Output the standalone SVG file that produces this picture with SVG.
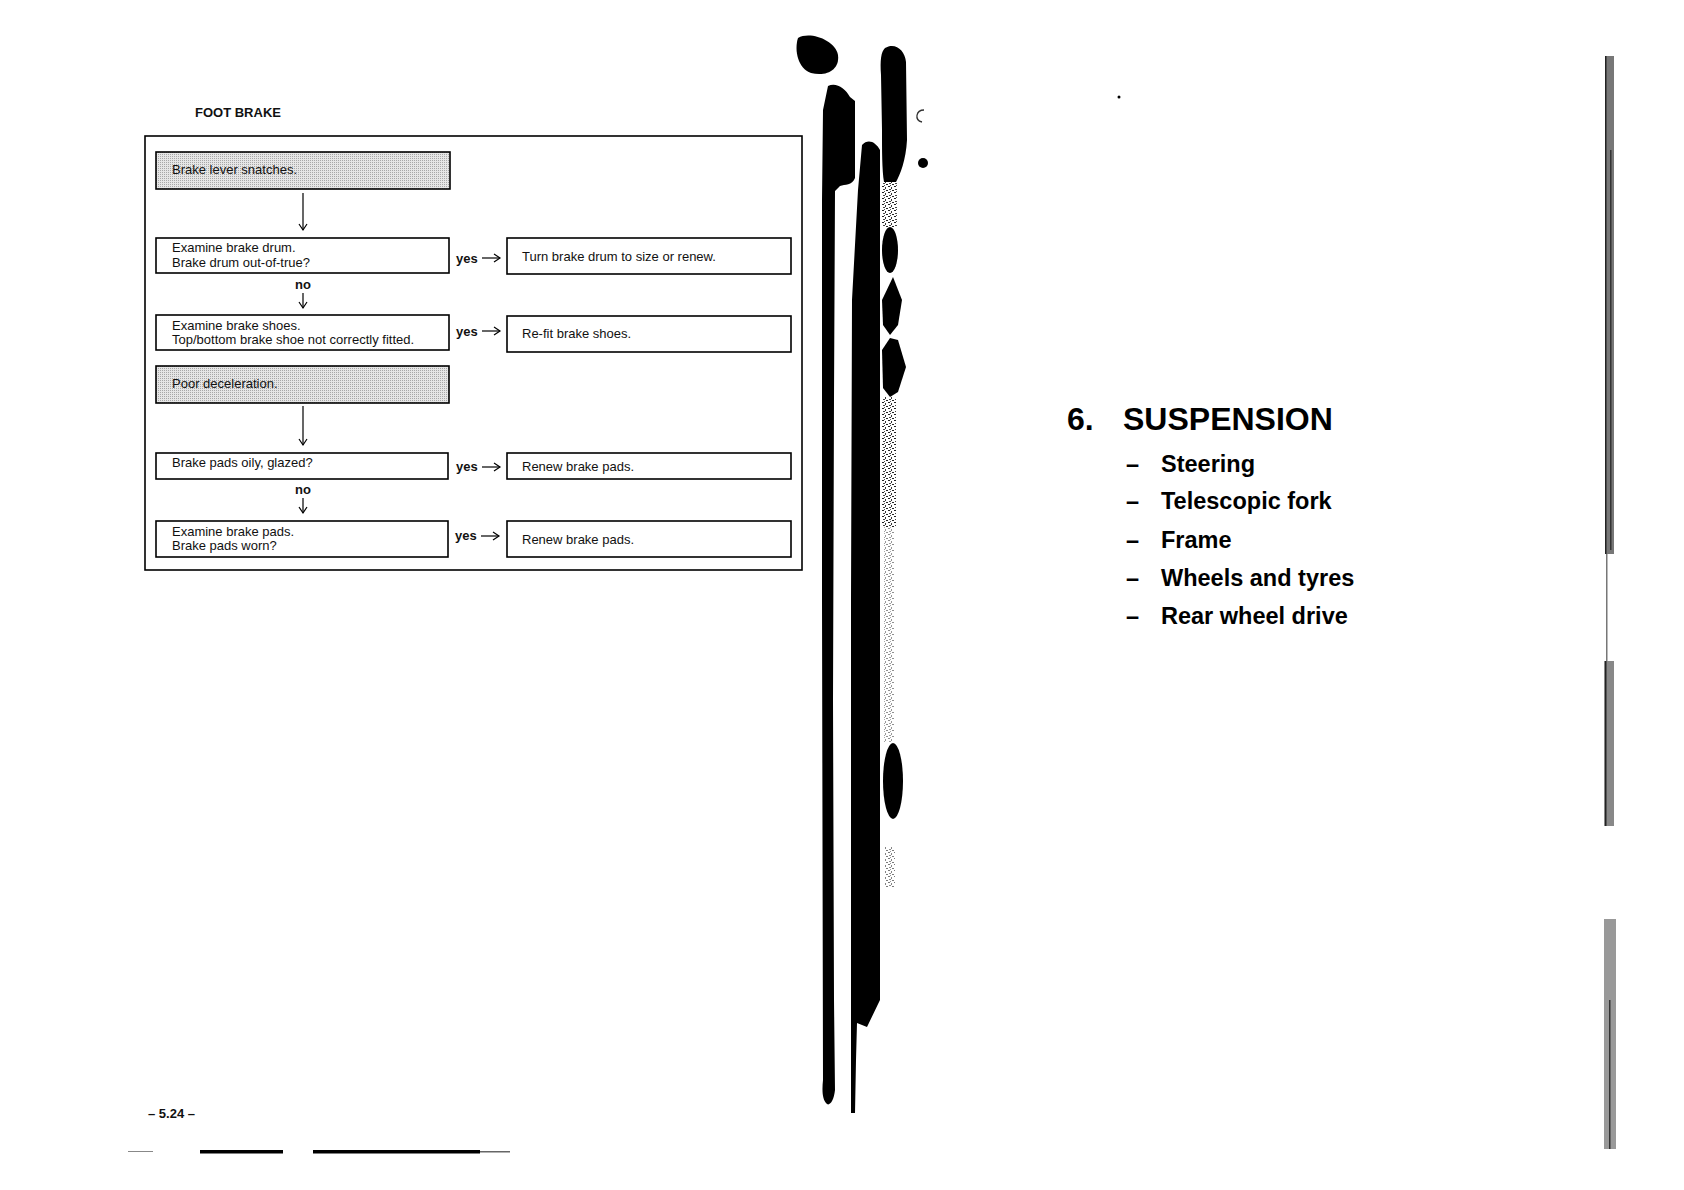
<svg xmlns="http://www.w3.org/2000/svg" width="1684" height="1190" viewBox="0 0 1684 1190">
<style>
.t{font-family:"Liberation Sans",Arial,Helvetica,sans-serif;font-size:13px;fill:#111}
.b{font-weight:bold}
.box{fill:#fff;stroke:#000;stroke-width:1.6}
.shade{fill:url(#dots);stroke:#000;stroke-width:1.6}
.frame{fill:none;stroke:#000;stroke-width:1.6}
.conn{fill:none;stroke:#000;stroke-width:1.2;marker-end:url(#ah)}
.h1{font-family:"Liberation Sans",Arial,Helvetica,sans-serif;font-weight:bold;font-size:32px;fill:#000}
.h2{font-family:"Liberation Sans",Arial,Helvetica,sans-serif;font-weight:bold;font-size:23.5px;fill:#000}
.ink{fill:#000}
.grey{fill:url(#speck)}
</style>
<defs>
<pattern id="dots" width="2" height="2" patternUnits="userSpaceOnUse">
<rect width="2" height="2" fill="#e6e6e6"/>
<rect width="1" height="1" fill="#a8a8a8"/>
</pattern>
<pattern id="speck" width="6" height="6" patternUnits="userSpaceOnUse">
<rect width="6" height="6" fill="#fff"/>
<rect x="0" y="0" width="2" height="1" fill="#222"/>
<rect x="3" y="1" width="1" height="2" fill="#333"/>
<rect x="1" y="3" width="2" height="1" fill="#444"/>
<rect x="4" y="4" width="2" height="1" fill="#222"/>
<rect x="2" y="5" width="1" height="1" fill="#555"/>
</pattern>
<marker id="ah" markerWidth="10" markerHeight="10" refX="8" refY="5" orient="auto" markerUnits="userSpaceOnUse">
<path d="M2,1 L8,5 L2,9" fill="none" stroke="#000" stroke-width="1.2"/>
</marker>
</defs>

<rect width="1684" height="1190" fill="#fff"/>

<text class="t b" x="195" y="117">FOOT BRAKE</text>
<rect class="frame" x="145" y="136" width="657" height="434"/>

<g id="n1"><rect class="shade" x="156" y="152" width="294" height="37"/><text class="t" x="172" y="174">Brake lever snatches.</text></g>
<g id="n2"><rect class="box" x="156" y="238" width="293" height="35"/><text class="t" x="172" y="252">Examine brake drum.</text><text class="t" x="172" y="267">Brake drum out-of-true?</text></g>
<g id="n2r"><rect class="box" x="507" y="238" width="284" height="36"/><text class="t" x="522" y="261">Turn brake drum to size or renew.</text></g>
<g id="n3"><rect class="box" x="156" y="315" width="293" height="35"/><text class="t" x="172" y="330">Examine brake shoes.</text><text class="t" x="172" y="344">Top/bottom brake shoe not correctly fitted.</text></g>
<g id="n3r"><rect class="box" x="507" y="316" width="284" height="36"/><text class="t" x="522" y="338">Re-fit brake shoes.</text></g>
<g id="n4"><rect class="shade" x="156" y="366" width="293" height="37"/><text class="t" x="172" y="388">Poor deceleration.</text></g>
<g id="n5"><rect class="box" x="156" y="453" width="292" height="26"/><text class="t" x="172" y="467">Brake pads oily, glazed?</text></g>
<g id="n5r"><rect class="box" x="507" y="453" width="284" height="26"/><text class="t" x="522" y="471">Renew brake pads.</text></g>
<g id="n6"><rect class="box" x="156" y="521" width="292" height="36"/><text class="t" x="172" y="536">Examine brake pads.</text><text class="t" x="172" y="550">Brake pads worn?</text></g>
<g id="n6r"><rect class="box" x="507" y="521" width="284" height="36"/><text class="t" x="522" y="544">Renew brake pads.</text></g>

<g id="connectors">
<path class="conn" d="M303,193 V230"/>
<text class="t b" x="456" y="263">yes</text><path class="conn" d="M482,258 H500"/>
<text class="t b" x="303" y="289" text-anchor="middle">no</text><path class="conn" d="M303,293 V308"/>
<text class="t b" x="456" y="336">yes</text><path class="conn" d="M482,331 H500"/>
<path class="conn" d="M303,406 V445"/>
<text class="t b" x="456" y="471">yes</text><path class="conn" d="M482,467 H500"/>
<text class="t b" x="303" y="494" text-anchor="middle">no</text><path class="conn" d="M303,498 V513"/>
<text class="t b" x="455" y="540">yes</text><path class="conn" d="M481,536 H499"/>
</g>

<text class="t b" x="148" y="1118">– 5.24 –</text>
<rect x="200" y="1150" width="83" height="3.5" class="ink"/>
<rect x="313" y="1150" width="167" height="3.5" class="ink"/>
<rect x="480" y="1151" width="30" height="1.5" fill="#666"/>
<rect x="128" y="1151" width="25" height="1" fill="#888"/>

<g id="scan">
<path class="ink" d="M798,38 C810,31 835,40 838,55 C840,70 826,77 811,73 C798,69 794,50 798,38 Z"/>
<path class="ink" d="M828,86 C836,82 845,88 850,97 L855,101 L855,178 C852,186 845,184 840,186 L835,191 L834,400 L833,700 L834,1000 L835,1090 C834,1100 830,1106 827,1104 C822,1100 822,1090 823,1080 L822,600 L822,200 L823,110 Z"/>
<path class="ink" d="M862,145 C868,138 876,142 880,150 L880,1000 L867,1027 L857,1023 L856,1060 L855,1113 L851,1113 L851,600 L852,300 L858,190 Z"/>
<path class="ink" d="M885,48 C895,42 905,50 906,62 L907,140 C906,160 900,175 896,182 L884,182 C882,170 882,150 882,130 L881,75 C880,60 881,52 885,48 Z"/>
<rect class="grey" x="882" y="182" width="15" height="45"/>
<ellipse class="ink" cx="890" cy="250" rx="8" ry="23"/>
<path class="ink" d="M893,277 L902,300 L898,325 L890,335 L883,325 L882,300 Z"/>
<path class="ink" d="M890,338 L898,340 L906,367 L898,392 L890,397 L883,388 L882,350 Z"/>
<rect class="grey" x="882" y="397" width="14" height="130"/>
<rect class="grey" x="884" y="527" width="10" height="215" opacity="0.5"/>
<ellipse class="ink" cx="893" cy="781" rx="10" ry="38"/>
<rect class="grey" x="885" y="847" width="10" height="40" opacity="0.6"/>
<path d="M924,110 C916,110 914,120 922,122" fill="none" stroke="#333" stroke-width="1.3"/>
<circle class="ink" cx="923" cy="163" r="5"/>
<circle class="ink" cx="1119" cy="97" r="1.5"/>
<rect x="1605" y="56" width="9" height="498" fill="#777"/>
<rect x="1605" y="56" width="1.5" height="498" fill="#222"/>
<rect x="1610" y="150" width="1.5" height="400" fill="#333"/>
<rect x="1606" y="554" width="1.5" height="107" fill="#777"/>
<rect x="1604" y="661" width="10" height="165" fill="#888"/>
<rect x="1605" y="661" width="1.5" height="165" fill="#222"/>
<rect x="1604" y="919" width="12" height="230" fill="#999"/>
<rect x="1609" y="1000" width="1.5" height="149" fill="#333"/>
</g>

<g id="suspension">
<text class="h1" x="1067" y="430">6.</text>
<text class="h1" x="1123" y="430">SUSPENSION</text>
<text class="h2" x="1126" y="472">–</text><text class="h2" x="1161" y="472">Steering</text>
<text class="h2" x="1126" y="509">–</text><text class="h2" x="1161" y="509">Telescopic fork</text>
<text class="h2" x="1126" y="548">–</text><text class="h2" x="1161" y="548">Frame</text>
<text class="h2" x="1126" y="586">–</text><text class="h2" x="1161" y="586">Wheels and tyres</text>
<text class="h2" x="1126" y="624">–</text><text class="h2" x="1161" y="624">Rear wheel drive</text>
</g>
</svg>
